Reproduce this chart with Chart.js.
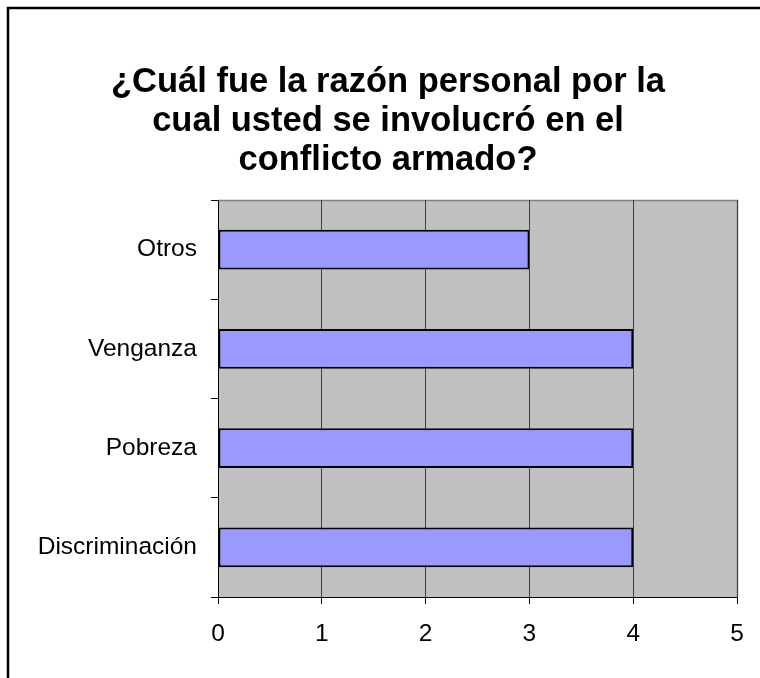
<!DOCTYPE html>
<html>
<head>
<meta charset="utf-8">
<script src="https://cdn.jsdelivr.net/npm/chart.js@4/dist/chart.umd.min.js"></script>
<style>
html,body{margin:0;padding:0;background:#fff;overflow:hidden;}
#wrap{position:absolute;left:0;top:0;width:760px;height:678px;}
</style>
</head>
<body>
<div id="wrap"><canvas id="c" width="760" height="678"></canvas></div>
<script>
const titleLines = ["¿Cuál fue la razón personal por la", "cual usted se involucró en el", "conflicto armado?"];
const categories = ["Otros", "Venganza", "Pobreza", "Discriminación"];
const values = [3, 4, 4, 4];
const xTicks = [0, 1, 2, 3, 4, 5];

const FONT = "'Liberation Sans', Arial, sans-serif";

const decor = {
  id: 'decor',
  beforeDraw(chart) {
    const ctx = chart.ctx, a = chart.chartArea;
    ctx.save();
    ctx.fillStyle = '#ffffff';
    ctx.fillRect(0, 0, chart.width, chart.height);
    // outer frame
    ctx.strokeStyle = '#000';
    ctx.lineWidth = 2.5;
    ctx.strokeRect(8, 8, chart.width + 20, chart.height + 20);
    // plot area
    ctx.fillStyle = '#c0c0c0';
    ctx.fillRect(a.left, a.top, a.right - a.left, a.bottom - a.top);
    ctx.strokeStyle = '#808080';
    ctx.lineWidth = 1.5;
    ctx.beginPath();
    ctx.moveTo(a.left, a.top + 0.5);
    ctx.lineTo(a.right + 0.5, a.top + 0.5);
    ctx.lineTo(a.right + 0.5, a.bottom);
    ctx.stroke();
    // title
    ctx.fillStyle = '#000';
    ctx.font = "bold 34.5px " + FONT;
    ctx.textAlign = 'center';
    ctx.textBaseline = 'alphabetic';
    const cx = 388;
    titleLines.forEach((t, i) => ctx.fillText(t, cx, 92 + i * 39));
    ctx.restore();
  }
};

new Chart(document.getElementById('c'), {
  type: 'bar',
  data: {
    labels: categories,
    datasets: [{
      data: values,
      backgroundColor: '#9999ff',
      borderColor: '#000000',
      borderWidth: 2,
      borderSkipped: false,
      categoryPercentage: 1,
      barPercentage: 0.4
    }]
  },
  options: {
    indexAxis: 'y',
    responsive: false,
    animation: false,
    devicePixelRatio: 1,
    layout: { padding: { top: 200, right: 23, left: 0, bottom: 0 } },
    plugins: { legend: { display: false }, title: { display: false }, tooltip: { enabled: false } },
    scales: {
      x: {
        min: 0, max: 5,
        afterBuildTicks(s) { s.ticks = xTicks.map(v => ({ value: v })); },
        afterFit(s) { s.height = 81; },
        border: { display: true, color: '#000', width: 1 },
        grid: { color: '#404040', lineWidth: 1, drawTicks: true, tickLength: 7, tickColor: '#000' },
        ticks: { color: '#000', font: { family: FONT, size: 24.5 }, padding: 16 }
      },
      y: {
        afterFit(s) { s.width = 218; },
        border: { display: true, color: '#000', width: 1 },
        grid: { offset: true, drawOnChartArea: false, drawTicks: true, tickLength: 7, tickColor: '#000' },
        ticks: { color: '#000', font: { family: FONT, size: 24.5 }, padding: 14 }
      }
    }
  },
  plugins: [decor]
});
</script>
</body>
</html>
